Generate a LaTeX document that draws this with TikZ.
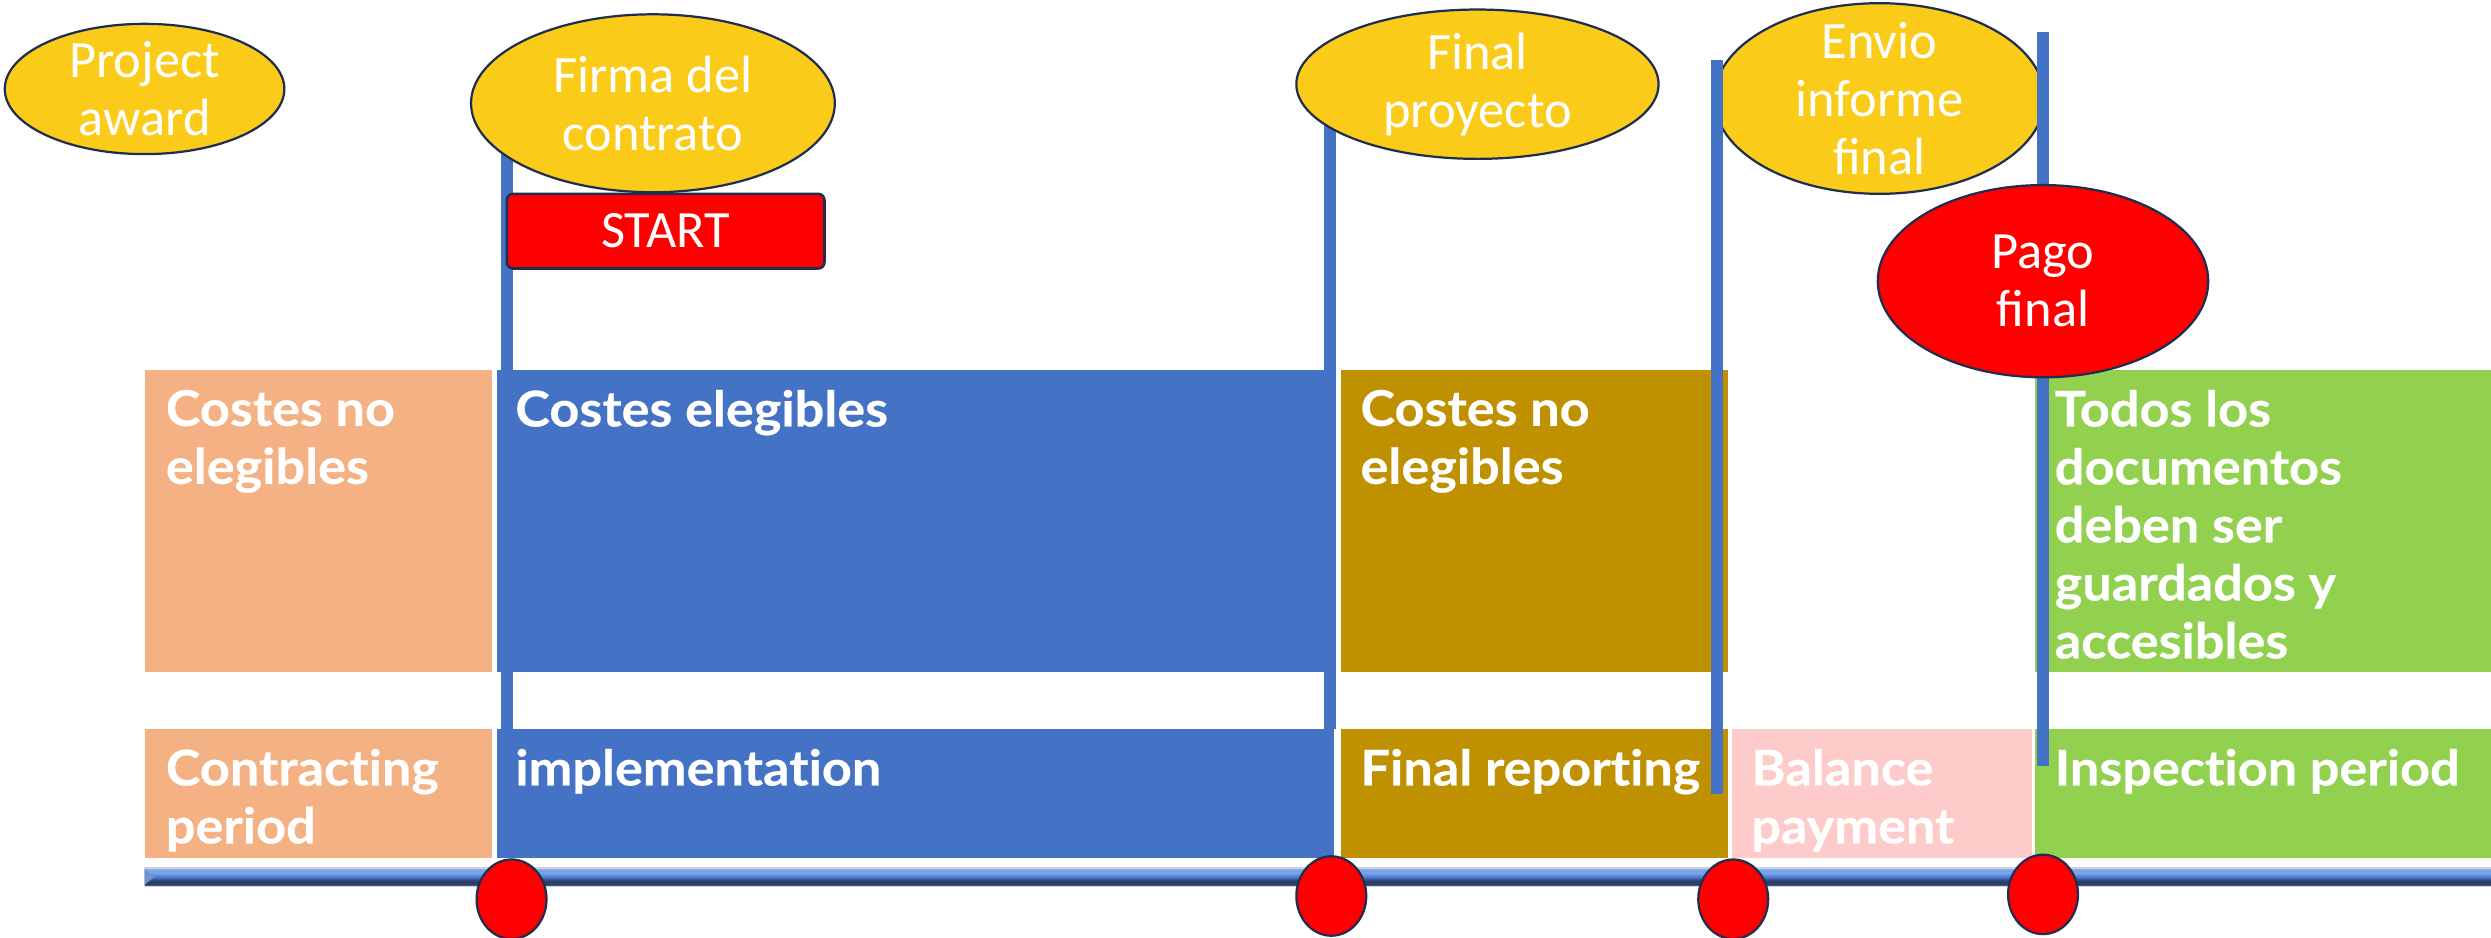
\documentclass[tikz,border=0pt]{standalone}
\usepackage{fontspec}
\usetikzlibrary{shapes.geometric}
\newfontfamily\boxfont{Lato}[Ligatures=NoCommon, BoldFeatures={FakeStretch=1.06, FakeBold=0.4}]
\newfontfamily\ellfont{Carlito}
\definecolor{peach}{HTML}{F4B183}
\definecolor{implblue}{HTML}{4472C4}
\definecolor{goldbox}{HTML}{BF9000}
\definecolor{pinkbox}{HTML}{FECBCB}
\definecolor{greenbox}{HTML}{92D050}
\definecolor{msyellow}{HTML}{FBCB1A}
\definecolor{navy}{HTML}{1F2D50}
\definecolor{redfill}{HTML}{FF0000}
\definecolor{tubeedge}{HTML}{C9D1DE}
\definecolor{tubelight}{HTML}{78A2EA}
\definecolor{tubemid}{HTML}{4B79CE}
\definecolor{tubedark}{HTML}{2C3F66}
\definecolor{tubemidb}{HTML}{4A6DB0}
\pgfdeclareverticalshading{tube}{100bp}{color(0bp)=(tubeedge); color(25bp)=(tubeedge); color(27bp)=(tubemidb); color(31bp)=(tubedark); color(40bp)=(tubedark); color(50bp)=(tubemid); color(60bp)=(tubelight); color(70bp)=(tubelight); color(73bp)=(tubeedge); color(100bp)=(tubeedge)}
\tikzset{
  phase/.style={rectangle, inner sep=0pt, outer sep=0pt, anchor=north west, draw=none},
  phasetext/.style={anchor=north west, inner sep=0pt, text=white, align=left,
    font=\boxfont\bfseries\fontsize{15.5}{18.25}\selectfont},
  milestone/.style={ellipse, draw=navy, line width=0.7pt, fill=msyellow, inner sep=0pt},
  paystone/.style={ellipse, draw=navy, line width=0.7pt, fill=redfill, inner sep=0pt},
  mstext/.style={text=white, align=center, inner sep=0pt,
    font=\ellfont\fontsize{16.5}{18.25}\selectfont},
  vline/.style={draw=implblue, line width=3.75pt},
  dot/.style={ellipse, draw=navy, line width=0.7pt, fill=redfill,
    minimum width=22pt, minimum height=25pt, inner sep=0pt},
  startbox/.style={rectangle, rounded corners=2pt, draw=navy, line width=0.8pt, fill=redfill,
    minimum width=100pt, minimum height=23.5pt, inner sep=0pt, text=white,
    font=\ellfont\fontsize{16.5}{18.25}\selectfont}
}
\begin{document}
\begin{tikzpicture}[x=0.5pt,y=-0.5pt]
\useasboundingbox (0,0) rectangle (1568,590);
\fill[white] (0,0) rectangle (1568,590);
% upper row
\node[phase, fill=peach, minimum width=109.5pt, minimum height=95pt] (u1) at (91,233) {};
\node[phase, fill=implblue, minimum width=263.5pt, minimum height=95pt] (u2) at (313,233) {};
\node[phase, fill=goldbox, minimum width=122pt, minimum height=95pt] (u3) at (844,233) {};
\node[phase, fill=greenbox, minimum width=144.5pt, minimum height=95pt] (u5) at (1281,233) {};
% lower row
\node[phase, fill=peach, minimum width=109.5pt, minimum height=40.5pt] (d1) at (91,459) {};
\node[phase, fill=implblue, minimum width=263.5pt, minimum height=40.5pt] (d2) at (313,459) {};
\node[phase, fill=goldbox, minimum width=122pt, minimum height=40.5pt] (d3) at (844,459) {};
\node[phase, fill=pinkbox, minimum width=94.5pt, minimum height=40.5pt] (d4) at (1090,459) {};
\node[phase, fill=greenbox, minimum width=144.5pt, minimum height=40.5pt] (d5) at (1281,459) {};
% timeline bar
\path[shading=tube, draw=tubeedge, line width=0.3pt] (91,546) rectangle (1570,558);
\fill[tubemid!80!white] (91,547) -- (97,552) -- (91,557) -- cycle;
\coordinate (bar) at (91,552);
% milestones (behind lines)
\node[milestone, minimum width=104pt, minimum height=60pt] (envio) at (1183,62) {};
% vertical lines
\coordinate (l1t) at (319,80);  \coordinate (l1b) at (319,459);
\coordinate (l2t) at (837,70);  \coordinate (l2b) at (837,459);
\coordinate (l3t) at (1081,38); \coordinate (l3b) at (1081,500);
\coordinate (l4t) at (1286,20); \coordinate (l4b) at (1286,482);
\draw[vline] (l1t) -- (l1b);
\draw[vline] (l2t) -- (l2b);
\draw[vline] (l3t) -- (l3b);
\draw[vline] (l4t) -- (l4b);
% milestones on top
\node[milestone, minimum width=88pt, minimum height=41pt] (award) at (91,56) {};
\node[milestone, minimum width=114.5pt, minimum height=56pt] (firma) at (411,65) {};
\node[milestone, minimum width=114pt, minimum height=47pt] (final) at (930,53) {};
\node[paystone, minimum width=104pt, minimum height=60.5pt] (pago) at (1286,177) {};
\node[startbox] (start) at (419,145.5) {START};
% milestone texts
\node[mstext] (awardt) at (award.center) {Project\\award};
\node[mstext] (firmat) at (firma.center) {Firma del\\contrato};
\node[mstext] (finalt) at (final.center) {Final\\proyecto};
\node[mstext] (enviot) at (envio.center) {Envio\\informe\\final};
\node[mstext] (pagot) at (pago.center) {Pago\\final};
% timeline dots
\node[dot] (p1) at (322,566) {};
\node[dot] (p2) at (838,564) {};
\node[dot] (p3) at (1091,566) {};
\node[dot] (p4) at (1286,563) {};
% phase texts
\node[phasetext] (u1t) at ([shift={(13,12)}]u1.north west) {Costes no\\elegibles};
\node[phasetext] (u2t) at ([shift={(11,12)}]u2.north west) {Costes elegibles};
\node[phasetext] (u3t) at ([shift={(12,12)}]u3.north west) {Costes no\\elegibles};
\node[phasetext] (u5t) at ([shift={(12,12)}]u5.north west) {Todos los\\documentos\\deben ser\\guardados y\\accesibles};
\node[phasetext] (d1t) at ([shift={(13,12)}]d1.north west) {Contracting\\period};
\node[phasetext] (d2t) at ([shift={(11,12)}]d2.north west) {implementation};
\node[phasetext] (d3t) at ([shift={(12,12)}]d3.north west) {Final reporting};
\node[phasetext] (d4t) at ([shift={(12,12)}]d4.north west) {Balance\\payment};
\node[phasetext] (d5t) at ([shift={(12,12)}]d5.north west) {Inspection period};
\end{tikzpicture}
\end{document}
